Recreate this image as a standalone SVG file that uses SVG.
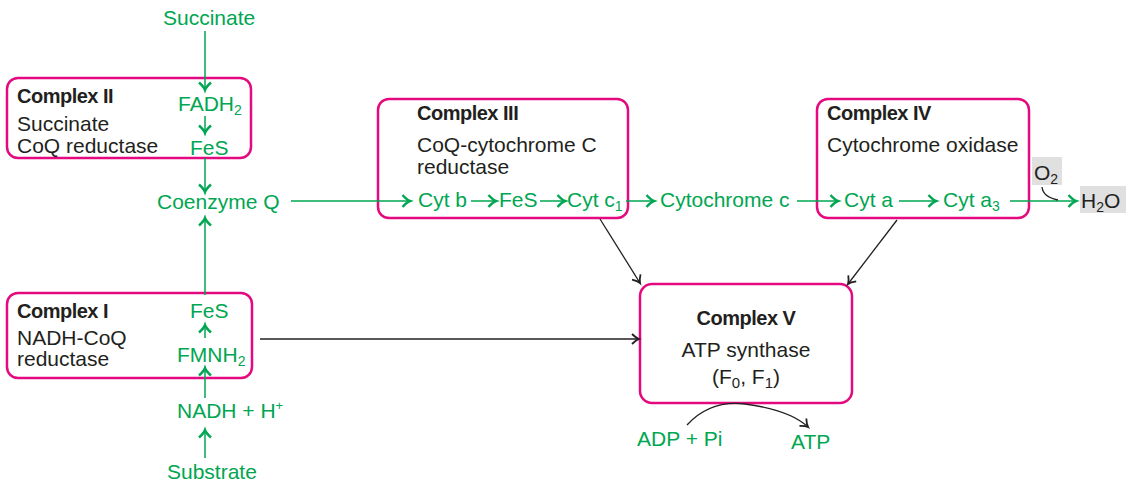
<svg xmlns="http://www.w3.org/2000/svg" width="1126" height="488" viewBox="0 0 1126 488">
<style>
.box{fill:#fff;stroke:#e4097f;stroke-width:2.5}
.g{fill:#00a651;font-family:"Liberation Sans",Arial,sans-serif;font-size:21px}
.k{fill:#231f20;font-family:"Liberation Sans",Arial,sans-serif;font-size:21px}
.b{fill:#231f20;font-family:"Liberation Sans",Arial,sans-serif;font-size:20px;font-weight:bold;letter-spacing:-0.5px}
.gl{stroke:#00a651;stroke-width:1.5;fill:none}
.kl{stroke:#231f20;stroke-width:1.3;fill:none}
.hl{fill:#e0e0e0}
</style>
<defs>
<marker id="ag" markerUnits="userSpaceOnUse" markerWidth="16" markerHeight="16" refX="0" refY="0" viewBox="-10 -8 12 16" orient="auto" overflow="visible">
<path d="M-7.5,-6 Q-3,-1 0,0 Q-3,1 -7.5,6" fill="none" stroke="#00a651" stroke-width="2.4"/>
</marker>
<marker id="ak" markerUnits="userSpaceOnUse" markerWidth="16" markerHeight="16" refX="0" refY="0" viewBox="-10 -8 12 16" orient="auto" overflow="visible">
<path d="M-7,-5 Q-3,-1 0,0 Q-3,1 -7,5" fill="none" stroke="#231f20" stroke-width="1.8"/>
</marker>
</defs>

<g id="complex2">
<rect class="box" x="7" y="78" width="244" height="80" rx="11"/>
<text class="b" x="17" y="103">Complex II</text>
<text class="k" x="17" y="131">Succinate</text>
<text class="k" x="17" y="153">CoQ reductase</text>
<text class="g" x="178" y="111">FADH<tspan font-size="14" dy="4">2</tspan></text>
<text class="g" x="190" y="155">FeS</text>
</g>

<g id="complex1">
<rect class="box" x="7" y="293" width="245" height="85" rx="11"/>
<text class="b" x="17" y="318">Complex I</text>
<text class="k" x="17" y="345">NADH-CoQ</text>
<text class="k" x="17" y="366">reductase</text>
<text class="g" x="190" y="318">FeS</text>
<text class="g" x="177" y="362">FMNH<tspan font-size="14" dy="4">2</tspan></text>
</g>

<g id="complex3">
<rect class="box" x="378" y="99" width="250" height="119" rx="11"/>
<text class="b" x="417" y="120">Complex III</text>
<text class="k" x="417" y="152">CoQ-cytochrome C</text>
<text class="k" x="417" y="174">reductase</text>
<text class="g" x="418" y="207">Cyt b</text>
<text class="g" x="499" y="207">FeS</text>
<text class="g" x="567" y="207">Cyt c<tspan font-size="14" dy="4">1</tspan></text>
</g>

<g id="complex4">
<rect class="box" x="817" y="99" width="212" height="119" rx="11"/>
<text class="b" x="827" y="120">Complex IV</text>
<text class="k" x="827" y="152">Cytochrome oxidase</text>
<text class="g" x="844" y="207">Cyt a</text>
<text class="g" x="943" y="207">Cyt a<tspan font-size="14" dy="4">3</tspan></text>
</g>

<g id="complex5">
<rect class="box" x="640" y="284" width="212" height="119" rx="12"/>
<text class="b" x="746" y="325" text-anchor="middle">Complex V</text>
<text class="k" x="746" y="357" text-anchor="middle">ATP synthase</text>
<text class="k" x="746" y="384" text-anchor="middle">(F<tspan font-size="15" dy="4">0</tspan><tspan dy="-4">, F</tspan><tspan font-size="15" dy="4">1</tspan><tspan dy="-4">)</tspan></text>
</g>

<g id="succinate"><text class="g" x="163" y="25">Succinate</text></g>
<g id="coenzymeq"><text class="g" x="157" y="209">Coenzyme Q</text></g>
<g id="nadh"><text class="g" x="177" y="418">NADH + H<tspan font-size="13" dy="-8">+</tspan></text></g>
<g id="substrate"><text class="g" x="167" y="479">Substrate</text></g>
<g id="cytochromec"><text class="g" x="660" y="207">Cytochrome c</text></g>
<g id="o2"><rect class="hl" x="1032" y="157" width="30" height="28"/><text class="k" x="1034" y="180">O<tspan font-size="14" dy="4">2</tspan></text></g>
<g id="h2o"><rect class="hl" x="1080" y="186" width="46" height="27"/><text class="k" x="1081" y="208">H<tspan font-size="14" dy="4">2</tspan><tspan dy="-4">O</tspan></text></g>
<g id="adp"><text class="g" x="637" y="446">ADP + Pi</text></g>
<g id="atp"><text class="g" x="791" y="449">ATP</text></g>

<g id="connectors">
<line class="gl" x1="205" y1="31" x2="205" y2="90" marker-end="url(#ag)"/>
<line class="gl" x1="205" y1="116" x2="205" y2="133" marker-end="url(#ag)"/>
<line class="gl" x1="205" y1="158" x2="205" y2="192" marker-end="url(#ag)"/>
<line class="gl" x1="205" y1="295" x2="205" y2="218" marker-end="url(#ag)"/>
<line class="gl" x1="205" y1="338" x2="205" y2="325" marker-end="url(#ag)"/>
<line class="gl" x1="205" y1="398" x2="205" y2="368" marker-end="url(#ag)"/>
<line class="gl" x1="205" y1="458" x2="205" y2="430" marker-end="url(#ag)"/>
<line class="gl" x1="291" y1="201" x2="410" y2="201" marker-end="url(#ag)"/>
<line class="gl" x1="471" y1="201" x2="496" y2="201" marker-end="url(#ag)"/>
<line class="gl" x1="540" y1="201" x2="565" y2="201" marker-end="url(#ag)"/>
<line class="gl" x1="626" y1="201" x2="654" y2="201" marker-end="url(#ag)"/>
<line class="gl" x1="797" y1="201" x2="838" y2="201" marker-end="url(#ag)"/>
<line class="gl" x1="899" y1="201" x2="936" y2="201" marker-end="url(#ag)"/>
<line class="gl" x1="1010" y1="201" x2="1076" y2="201" marker-end="url(#ag)"/>
<path class="kl" d="M1042,187 Q1043,197 1058,200"/>
<line class="kl" x1="600" y1="219" x2="640" y2="283" marker-end="url(#ak)"/>
<line class="kl" x1="897" y1="220" x2="848" y2="284" marker-end="url(#ak)"/>
<line class="kl" x1="260" y1="339" x2="639" y2="339" marker-end="url(#ak)"/>
<path class="kl" d="M687,425 Q710,400 745,404 Q790,410 808,427" marker-end="url(#ak)"/>
</g>
</svg>
